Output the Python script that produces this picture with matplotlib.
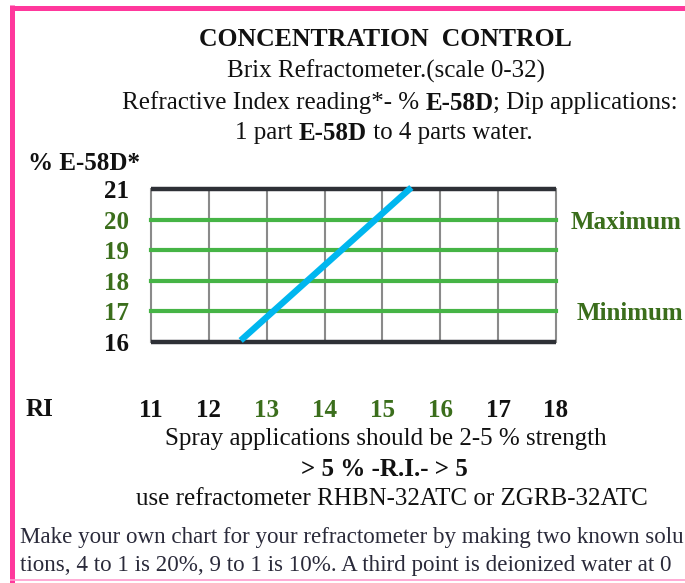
import matplotlib
matplotlib.use("Agg")
import matplotlib.pyplot as plt
from matplotlib.lines import Line2D
from matplotlib.transforms import offset_copy

# ---------------- data ----------------
ri_ticks = [11, 12, 13, 14, 15, 16, 17, 18]
ri_tick_colors = ["k", "k", "g", "g", "g", "g", "k", "k"]
pct_ticks = [16, 17, 18, 19, 20, 21]
pct_tick_colors = ["k", "g", "g", "g", "g", "k"]
green_levels = [17, 18, 19, 20]
frame_levels = [16, 21]
# calibration line (RI reading vs % E-58D)
line_ri = [12.55, 15.5]
line_pct = [16.05, 21.05]

W, H = 685, 583
SERIF = "Liberation Serif"
GREEN_TXT = "#3b6e1c"
GREEN_LINE = "#46b446"
BLUE = "#00b6ef"
PINK = "#ff389c"
DARK = "#111111"
cmap = {"k": DARK, "g": GREEN_TXT}
FS = 18
DY = 2  # small downward shift of centred text (px)

fig = plt.figure(figsize=(W / 100, H / 100), dpi=100)
fig.patch.set_facecolor("white")

def fx(px):
    return px / W

def fy(py):
    return 1 - (py + DY) / H

# pink border
fig.add_artist(Line2D([fx(12.5), fx(12.5)], [1 - 5 / H, 0], color=PINK, lw=3.6, solid_capstyle="butt"))
fig.add_artist(Line2D([fx(10), fx(685)], [1 - 7.5 / H, 1 - 7.5 / H], color=PINK, lw=3.6, solid_capstyle="butt"))
fig.add_artist(Line2D([fx(10), fx(685)], [1 - 580 / H, 1 - 580 / H], color="#ff9ccd", lw=1.2, solid_capstyle="butt"))

# ---------------- chart ----------------
left, right, top, bottom = 151, 556, 189, 342
ax = fig.add_axes([fx(left), 1 - bottom / H, fx(right - left), (bottom - top) / H])
ax.set_xlim(ri_ticks[0], ri_ticks[-1])
ax.set_ylim(pct_ticks[0], pct_ticks[-1])
for s in ax.spines.values():
    s.set_visible(False)
ax.set_facecolor("none")

for r in ri_ticks:
    ax.axvline(r, color="#8a8a8a", lw=1.5, zorder=1, clip_on=False)
for g in green_levels:
    ax.axhline(g, color=GREEN_LINE, lw=3.0, zorder=2, clip_on=False)
for f in frame_levels:
    ax.axhline(f, color="#2e3036", lw=3.2, zorder=3, clip_on=False, solid_capstyle="butt")

ax.plot(line_ri, line_pct, color=BLUE, lw=4.6, solid_capstyle="butt", zorder=4, clip_on=False)

ax.set_xticks(ri_ticks)
ax.set_xticklabels([str(v) for v in ri_ticks], fontfamily=SERIF, fontweight="bold", fontsize=FS)
for lab, c in zip(ax.get_xticklabels(), ri_tick_colors):
    lab.set_color(cmap[c])
ax.tick_params(axis="x", length=0, pad=41)

ax.set_yticks(pct_ticks)
ax.set_yticklabels([str(v) for v in pct_ticks], fontfamily=SERIF, fontweight="bold", fontsize=FS)
for lab, c in zip(ax.get_yticklabels(), pct_tick_colors):
    lab.set_color(cmap[c])
ax.tick_params(axis="y", length=0, pad=16)

ytr = offset_copy(ax.get_yaxis_transform(), fig=fig, x=0, y=-2.5, units="dots")
ax.text(1.035, 20, "Maximum", transform=ytr, fontfamily=SERIF,
        fontweight="bold", fontsize=FS, color=GREEN_TXT, va="center", ha="left")
ax.text(1.05, 17, "Minimum", transform=ytr, fontfamily=SERIF,
        fontweight="bold", fontsize=FS, color=GREEN_TXT, va="center", ha="left")

fig.text(fx(84), fy(162), "% E-58D*", fontfamily=SERIF, fontweight="bold", fontsize=FS,
         color=DARK, ha="center", va="center")
fig.text(fx(39), fy(407), "RI", fontfamily=SERIF, fontweight="bold", fontsize=FS,
         color=DARK, ha="center", va="center")

# ---------------- rich text helper ----------------
renderer = fig.canvas.get_renderer()

def rich(xc, yc, parts, size=FS, color=DARK):
    texts = []
    widths = []
    for s, w in parts:
        t = fig.text(0, fy(yc), s, fontfamily=SERIF, fontweight=w, fontsize=size,
                     color=color, ha="left", va="center")
        bb = t.get_window_extent(renderer=renderer)
        texts.append(t)
        widths.append(bb.width)
    total = sum(widths)
    x = xc - total / 2
    for t, wd in zip(texts, widths):
        t.set_x(fx(x))
        x += wd

rich(385, 38, [("CONCENTRATION  CONTROL", "bold")], size=18.5)
rich(386, 69, [("Brix Refractometer.(scale 0-32)", "normal")])
rich(400, 101, [("Refractive Index reading*- % ", "normal"), ("E-58D", "bold"),
                ("; Dip applications:", "normal")])
rich(384, 131, [("1 part ", "normal"), ("E-58D", "bold"), (" to 4 parts water.", "normal")])

rich(386, 437, [("Spray applications should be 2-5 % strength", "normal")])
rich(384, 467, [("> 5 % -R.I.- > 5", "bold")])
rich(392, 497, [("use refractometer RHBN-32ATC or ZGRB-32ATC", "normal")])

fig.text(fx(20), fy(535), "Make your own chart for your refractometer by making two known solu",
         fontfamily=SERIF, fontsize=16.6, color="#2a2a3a", ha="left", va="center")
fig.text(fx(20), fy(563), "tions, 4 to 1 is 20%, 9 to 1 is 10%. A third point is deionized water at 0",
         fontfamily=SERIF, fontsize=16.6, color="#2a2a3a", ha="left", va="center")

fig.savefig("out.png", dpi=100, facecolor="white")
